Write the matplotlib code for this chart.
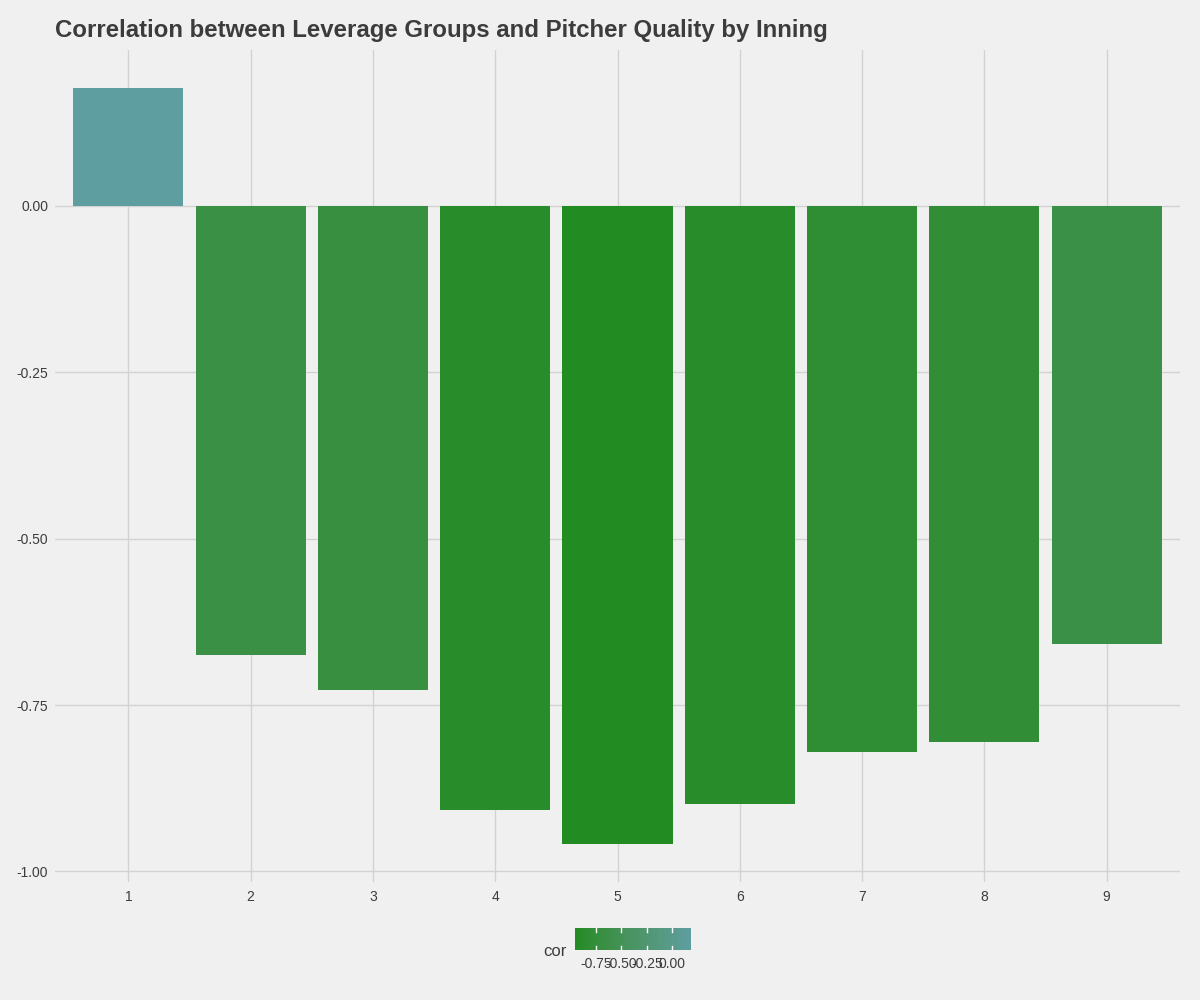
import matplotlib
matplotlib.use("Agg")
import matplotlib.pyplot as plt
import numpy as np
from matplotlib.colors import ListedColormap, Normalize, to_rgb

innings = [1, 2, 3, 4, 5, 6, 7, 8, 9]
cor = [0.177, -0.675, -0.727, -0.908, -0.959, -0.899, -0.821, -0.806, -0.658]
y_ticks = [0.0, -0.25, -0.50, -0.75, -1.00]
y_tick_labels = ["0.00", "-0.25", "-0.50", "-0.75", "-1.00"]
legend_ticks = [-0.75, -0.50, -0.25, 0.00]
legend_tick_labels = ["-0.75", "-0.50", "-0.25", "0.00"]
title = "Correlation between Leverage Groups and Pitcher Quality by Inning"
low_color = "#228B22"
high_color = "#5F9EA0"

plt.rcParams['font.family'] = ['Liberation Sans', 'DejaVu Sans']
bg = "#F0F0F0"
grid = "#D2D2D2"
txt = "#3C3C3C"


# CIELAB interpolation (like ggplot2's gradient scale)
def srgb_to_lab(c):
    c = np.array(c)
    lin = np.where(c <= 0.04045, c / 12.92, ((c + 0.055) / 1.055) ** 2.4)
    M = np.array([[0.4124, 0.3576, 0.1805],
                  [0.2126, 0.7152, 0.0722],
                  [0.0193, 0.1192, 0.9505]])
    xyz = M @ lin
    wp = np.array([0.95047, 1.0, 1.08883])
    t = xyz / wp
    f = np.where(t > (6/29)**3, np.cbrt(t), t / (3*(6/29)**2) + 4/29)
    return np.array([116*f[1] - 16, 500*(f[0]-f[1]), 200*(f[1]-f[2])])


def lab_to_srgb(lab):
    L, a, b = lab
    fy = (L + 16) / 116
    fx = fy + a / 500
    fz = fy - b / 200
    f = np.array([fx, fy, fz])
    t = np.where(f > 6/29, f**3, 3*(6/29)**2*(f - 4/29))
    wp = np.array([0.95047, 1.0, 1.08883])
    xyz = t * wp
    Minv = np.array([[3.2406, -1.5372, -0.4986],
                     [-0.9689, 1.8758, 0.0415],
                     [0.0557, -0.2040, 1.0570]])
    lin = Minv @ xyz
    lin = np.clip(lin, 0, 1)
    c = np.where(lin <= 0.0031308, 12.92*lin, 1.055*lin**(1/2.4) - 0.055)
    return np.clip(c, 0, 1)


lab_lo = srgb_to_lab(to_rgb(low_color))
lab_hi = srgb_to_lab(to_rgb(high_color))
cols = [lab_to_srgb(lab_lo + (lab_hi - lab_lo)*s) for s in np.linspace(0, 1, 256)]
cmap = ListedColormap(cols)
norm = Normalize(vmin=min(cor), vmax=max(cor))

fig = plt.figure(figsize=(12, 10), dpi=100, facecolor=bg)
ax = fig.add_axes([55/1200, 1-882/1000, 1125/1200, 832/1000])
ax.set_facecolor(bg)

x = np.arange(len(innings))
ax.bar(x, cor, width=0.9, color=[cmap(norm(v)) for v in cor], zorder=2)

ax.set_xlim(-0.6, len(innings) - 1 + 0.6)
rng = max(cor) - min(cor)
ax.set_ylim(min(cor) - 0.05*rng, max(cor) + 0.05*rng)
ax.set_xticks(x)
ax.set_xticklabels([str(i) for i in innings])
ax.set_yticks(y_ticks)
ax.set_yticklabels(y_tick_labels)
ax.grid(True, color=grid, linewidth=1, zorder=0)
ax.set_axisbelow(True)
for s in ax.spines.values():
    s.set_visible(False)
ax.tick_params(length=0, labelsize=10, colors=txt)
ax.tick_params(axis='x', pad=6)
ax.tick_params(axis='y', pad=5)

fig.text(55/1200, 1-30/1000, title, fontsize=17.3, fontweight='bold', color=txt,
         ha='left', va='center')

# colorbar legend
cax = fig.add_axes([575/1200, 1-950/1000, 115/1200, 22/1000])
grad = np.linspace(norm.vmin, norm.vmax, 256).reshape(1, -1)
cax.imshow(grad, aspect='auto', cmap=cmap, norm=norm,
           extent=[norm.vmin, norm.vmax, 0, 1])
cax.set_xlim(norm.vmin, norm.vmax)
cax.set_ylim(0, 1)
for t in legend_ticks:
    cax.plot([t, t], [0, 0.2], color='white', lw=1)
    cax.plot([t, t], [0.8, 1], color='white', lw=1)
cax.set_yticks([])
cax.set_xticks(legend_ticks)
cax.set_xticklabels(legend_tick_labels)
cax.tick_params(length=0, labelsize=10, colors=txt, pad=5)
for s in cax.spines.values():
    s.set_visible(False)
fig.text(567/1200, 1-952/1000, "cor", fontsize=12, color=txt, ha='right', va='center')

fig.savefig("out.png", dpi=100, facecolor=bg)
